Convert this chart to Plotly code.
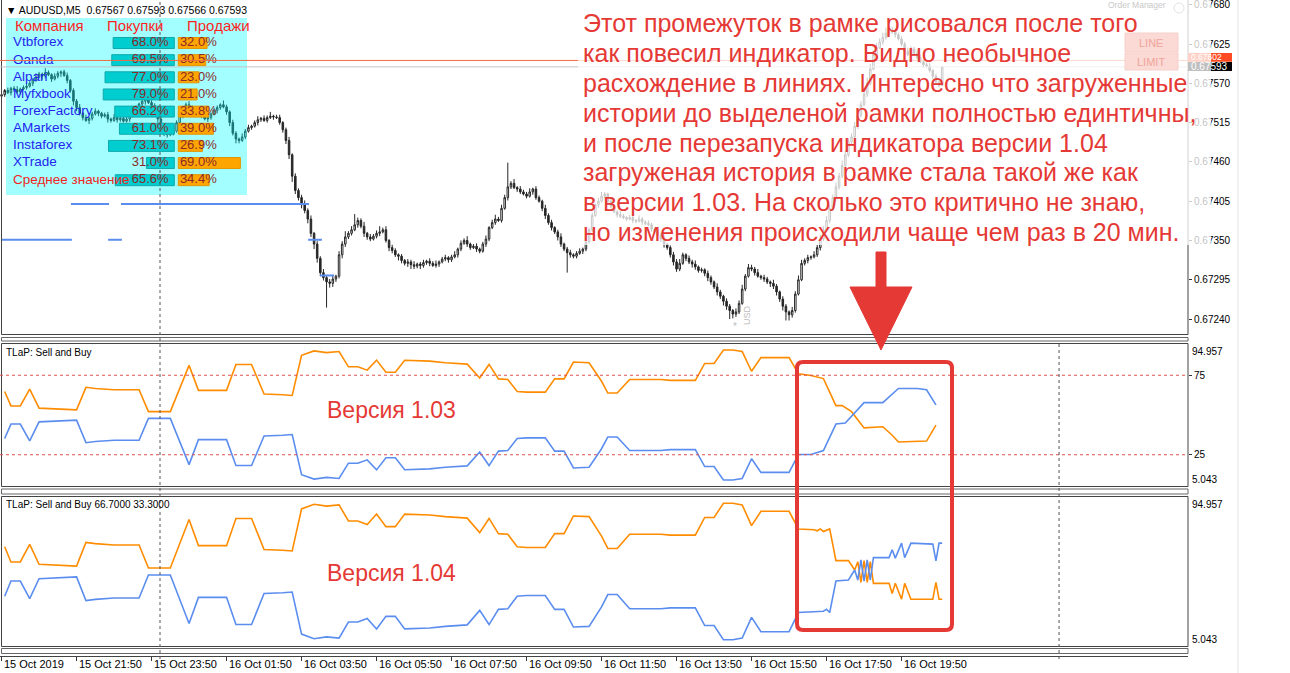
import plotly.graph_objects as go

W, H = 1290, 673
PLOT_R = 1188          # right border of the chart panels (px)
BAR_PX = 3.125         # width of one M5 bar on screen (px)
FONT = "Liberation Sans"
RED = "#e53935"


def px(x):
    return x / W


def py(y):
    return 1 - y / H


# ---------------------------------------------------------------- data
symbol_header = "▼ AUDUSD,M5  0.67567 0.67593 0.67566 0.67593"
time_labels = ["15 Oct 2019", "15 Oct 21:50", "15 Oct 23:50", "16 Oct 01:50",
               "16 Oct 03:50", "16 Oct 05:50", "16 Oct 07:50", "16 Oct 09:50",
               "16 Oct 11:50", "16 Oct 13:50", "16 Oct 15:50", "16 Oct 17:50",
               "16 Oct 19:50"]
time_label_bars = [0, 24, 48, 72, 96, 120, 144, 168, 192, 216, 240, 264, 288]

price_ticks = [0.67680, 0.67625, 0.67570, 0.67515, 0.67460, 0.67405,
               0.67350, 0.67295, 0.67240]
price_range = [0.672191, 0.676866]
bid_price = 0.67593
ask_price = 0.67602

# candles, in points above 0.67000 (1 point = 0.00001)
opens_pts = [
    552, 554, 560, 557, 563, 561, 558, 562, 564, 566, 570, 575, 579, 583, 580, 585,
    582, 576, 580, 584, 586, 581, 574, 560, 545, 536, 528, 522, 518, 521, 527, 531,
    528, 524, 526, 520, 518, 522, 519, 521, 517, 520, 525, 530, 536, 541, 545, 548,
    543, 539, 530, 520, 510, 502, 498, 500, 503, 515, 525, 532, 540, 537, 530, 526,
    528, 524, 520, 522, 527, 532, 536, 540, 537, 530, 515, 500, 492, 490, 495, 503,
    508, 510, 515, 519, 521, 518, 522, 524, 523, 522, 515, 505, 490, 470, 440, 420,
    410, 400, 392, 380, 360, 345, 325, 305, 298, 292, 290, 296, 300, 330, 345, 355,
    360, 365, 372, 378, 370, 360, 355, 352, 356, 360, 362, 365, 350, 340, 336, 330,
    328, 322, 318, 320, 316, 314, 317, 315, 319, 321, 318, 315, 317, 320, 324, 326,
    323, 327, 330, 338, 346, 350, 345, 340, 342, 338, 335, 345, 352, 368, 375, 380,
    378, 395, 410, 425, 430, 424, 422, 418, 415, 412, 418, 422, 410, 405, 395, 385,
    375, 368, 362, 355, 345, 338, 333, 330, 328, 332, 335, 338, 348, 365, 385, 400,
    405, 412, 415, 405, 398, 390, 386, 384, 382, 380, 382, 378, 377, 380, 376, 374,
    372, 366, 362, 358, 352, 345, 340, 330, 320, 310, 318, 330, 325, 320, 317, 313,
    308, 309, 304, 298, 292, 285, 278, 272, 265, 258, 252, 247, 250, 262, 282, 300,
    312, 310, 305, 300, 298, 296, 292, 290, 286, 278, 268, 258, 250, 246, 252, 275,
    295, 318, 322, 326, 327, 330, 340, 352, 365, 378, 395, 410, 425, 440, 455, 470,
    488, 495, 510, 525, 540, 555, 570, 590, 610, 620, 628, 634, 640, 645, 642, 638,
    632, 625, 615, 610, 618, 612, 606, 600, 596, 594, 588, 580, 572, 567]
closes_pts = [
    554, 560, 557, 563, 561, 558, 562, 564, 566, 570, 575, 579, 583, 580, 585, 582,
    576, 580, 584, 586, 581, 574, 560, 545, 536, 528, 522, 518, 521, 527, 531, 528,
    524, 526, 520, 518, 522, 519, 521, 517, 520, 525, 530, 536, 541, 545, 548, 543,
    539, 530, 520, 510, 502, 498, 500, 503, 515, 525, 532, 540, 537, 530, 526, 528,
    524, 520, 522, 527, 532, 536, 540, 537, 530, 515, 500, 492, 490, 495, 503, 508,
    510, 515, 519, 521, 518, 522, 524, 523, 522, 515, 505, 490, 470, 440, 420, 410,
    400, 392, 380, 360, 345, 325, 305, 298, 292, 290, 296, 300, 330, 345, 355, 360,
    365, 372, 378, 370, 360, 355, 352, 356, 360, 362, 365, 350, 340, 336, 330, 328,
    322, 318, 320, 316, 314, 317, 315, 319, 321, 318, 315, 317, 320, 324, 326, 323,
    327, 330, 338, 346, 350, 345, 340, 342, 338, 335, 345, 352, 368, 375, 380, 378,
    395, 410, 425, 430, 424, 422, 418, 415, 412, 418, 422, 410, 405, 395, 385, 375,
    368, 362, 355, 345, 338, 333, 330, 328, 332, 335, 338, 348, 365, 385, 400, 405,
    412, 415, 405, 398, 390, 386, 384, 382, 380, 382, 378, 377, 380, 376, 374, 372,
    366, 362, 358, 352, 345, 340, 330, 320, 310, 318, 330, 325, 320, 317, 313, 308,
    309, 304, 298, 292, 285, 278, 272, 265, 258, 252, 247, 250, 262, 282, 300, 312,
    310, 305, 300, 298, 296, 292, 290, 286, 278, 268, 258, 250, 246, 252, 275, 295,
    318, 322, 326, 327, 330, 340, 352, 365, 378, 395, 410, 425, 440, 455, 470, 488,
    495, 510, 525, 540, 555, 570, 590, 610, 620, 628, 634, 640, 645, 642, 638, 632,
    625, 615, 610, 618, 612, 606, 600, 596, 594, 588, 580, 572, 567, 593]
wick_up_pts = [
    3, 2, 4, 2, 3, 5, 2, 3, 4, 3, 2, 5, 3, 2, 6, 3, 2, 4, 3, 2, 3, 4, 2, 3,
    3, 5, 2, 4, 2, 3, 4, 2, 2, 3, 4, 2, 5, 3, 2, 4, 3, 2, 4, 3, 2, 5, 3, 2,
    4, 3, 2, 5, 3, 2, 4, 6, 3, 4, 2, 3, 5, 2, 3, 4, 2, 5, 3, 2, 4, 3, 2, 6,
    3, 2, 4, 3, 2, 5, 3, 4, 2, 3, 5, 2, 4, 3, 6, 2, 3, 4, 2, 3, 5, 2, 4, 3,
    4, 6, 3, 5, 2, 4, 3, 5, 3, 4, 6, 2, 5, 4, 8, 3, 5, 15, 4, 3, 6, 2, 4, 3,
    4, 8, 3, 5, 2, 4, 3, 2, 3, 2, 4, 3, 5, 2, 3, 4, 2, 4, 3, 5, 2, 3, 4, 2,
    3, 5, 2, 4, 3, 6, 2, 3, 4, 2, 3, 5, 2, 4, 6, 3, 5, 4, 34, 3, 6, 2, 4, 3,
    3, 5, 2, 4, 3, 2, 5, 3, 4, 2, 3, 5, 2, 3, 4, 2, 3, 4, 2, 5, 3, 4, 2, 5,
    6, 3, 2, 4, 3, 2, 5, 3, 2, 4, 3, 2, 5, 3, 2, 4, 3, 2, 4, 3, 5, 2, 3, 4,
    4, 6, 3, 2, 4, 3, 5, 2, 3, 2, 4, 3, 2, 5, 3, 2, 4, 3, 2, 5, 4, 6, 3, 5,
    4, 3, 5, 2, 4, 3, 2, 5, 3, 2, 4, 3, 2, 5, 4, 6, 5, 3, 4, 2, 5, 4, 6, 5,
    6, 5, 4, 6, 5, 7, 6, 5, 5, 6, 7, 5, 6, 8, 7, 6, 6, 5, 7, 8, 6, 4, 5, 3,
    4, 3, 5, 4, 3, 5, 4, 3, 3, 4, 2, 3, 2, 0]
wick_dn_pts = [
    2, 3, 2, 4, 3, 2, 4, 2, 3, 2, 4, 3, 2, 5, 3, 2, 4, 2, 3, 5, 2, 4, 3, 6,
    5, 3, 4, 2, 5, 3, 2, 4, 3, 2, 5, 3, 2, 4, 3, 2, 2, 4, 3, 2, 4, 3, 5, 2,
    3, 4, 5, 3, 6, 4, 2, 3, 2, 3, 4, 2, 3, 5, 2, 3, 3, 2, 4, 3, 2, 4, 3, 2,
    4, 5, 3, 6, 4, 2, 3, 2, 3, 2, 4, 3, 2, 3, 2, 4, 2, 3, 4, 5, 6, 8, 5, 4,
    5, 4, 6, 5, 7, 6, 5, 4, 36, 6, 5, 4, 3, 5, 4, 3, 3, 2, 4, 3, 5, 4, 3, 2,
    3, 4, 2, 3, 5, 4, 3, 6, 4, 3, 5, 6, 4, 3, 5, 3, 3, 4, 2, 3, 4, 2, 3, 4,
    3, 2, 4, 3, 2, 4, 3, 2, 4, 3, 2, 4, 3, 2, 3, 2, 3, 2, 4, 3, 2, 4, 3, 2,
    3, 2, 4, 3, 2, 4, 5, 3, 4, 3, 5, 4, 3, 28, 4, 3, 3, 2, 4, 3, 2, 3, 2, 4,
    2, 3, 4, 3, 2, 4, 3, 2, 3, 2, 4, 3, 2, 4, 3, 2, 4, 3, 2, 4, 5, 3, 4, 5,
    4, 3, 2, 4, 3, 5, 4, 3, 3, 4, 5, 4, 3, 5, 4, 6, 5, 12, 6, 4, 3, 2, 3, 2,
    3, 4, 2, 3, 4, 3, 5, 4, 5, 4, 6, 12, 8, 4, 3, 2, 2, 3, 4, 3, 2, 3, 4, 3,
    3, 4, 3, 2, 4, 3, 2, 3, 3, 2, 4, 3, 2, 4, 3, 2, 3, 2, 4, 3, 2, 3, 4, 2,
    3, 4, 2, 3, 4, 3, 2, 4, 2, 3, 4, 2, 3, 1]

# blue step levels drawn on the price chart (bar from, bar to, level in points)
level_from = [0.0, 22.2, 34.1, 38.2, 98.1, 101.9]
level_to = [22.5, 34.4, 38.5, 98.4, 102.5, 106.4]
level_pts = [351, 401, 351, 401, 351, 301]

# "TLaP: Sell and Buy" indicator: shared history (same in both versions)
hist_bars = [1, 3, 6, 9, 12, 18, 21, 24, 27, 30, 36, 44, 47, 54, 60, 63, 72, 75,
             80, 84, 90, 93, 96, 100, 104, 108, 111, 114, 117, 120, 123, 126,
             129, 137, 142, 149, 153, 156, 159, 162, 165, 168, 174, 177, 180,
             183, 188, 192, 194, 197, 201, 211, 214, 222, 225, 228, 231, 234,
             237, 240, 243, 252]
hist_sell = [64.8, 55.7, 55.7, 66.3, 54.3, 53.8, 53.2, 53.2, 67.4, 66.7, 65.9,
             65.9, 52.1, 52.1, 81.2, 65.5, 65.5, 81.8, 81.8, 63.2, 62.7, 62.3,
             87.5, 90.3, 89.2, 89.9, 80.3, 80.3, 78.2, 84.5, 76.9, 76.9, 84.4,
             83.9, 82.9, 82.0, 73.3, 81.8, 72.7, 72.3, 64.8, 64.4, 64.4, 72.7,
             72.7, 83.3, 82.9, 71.2, 63.8, 63.8, 72.3, 72.3, 71.8, 71.8, 82.4,
             82.4, 90.9, 90.9, 89.9, 77.5, 86.1, 86.1]
hist_buy = [35.2, 44.3, 44.3, 33.7, 45.7, 46.2, 46.8, 46.8, 32.6, 33.3, 34.1,
            34.1, 47.9, 47.9, 18.8, 34.5, 34.5, 18.2, 18.2, 36.8, 37.3, 37.7,
            12.5, 9.7, 10.8, 10.1, 19.7, 19.7, 21.8, 15.5, 23.1, 23.1, 15.6,
            16.1, 17.1, 18.0, 26.7, 18.2, 27.3, 27.7, 35.2, 35.6, 35.6, 27.3,
            27.3, 16.7, 17.1, 28.8, 36.2, 36.2, 27.7, 27.7, 28.2, 28.2, 17.6,
            17.6, 9.1, 9.1, 10.1, 22.5, 13.9, 13.9]

# version 1.03: bars drawn live inside the frame
v103_sell_bars = [255, 259, 263, 267, 269, 272, 276, 282, 285, 287, 296, 299]
v103_sell = [75.9, 74.8, 72.9, 55.9, 55.9, 52.1, 41.9, 42.6, 37.3, 33.0, 33.6, 43.6]
v103_buy_bars = [255, 259, 263, 267, 270, 276, 282, 287, 293, 296, 299]
v103_buy = [25.2, 25.2, 27.7, 44.3, 44.9, 57.8, 57.8, 66.7, 66.7, 65.9, 56.4]

# version 1.04: bars drawn live inside the frame
v104_sell_bars = [255, 260, 261, 262, 263, 264, 265, 267, 271, 273, 274, 275, 276,
                  277, 278, 279, 284, 285, 286, 288, 289, 291, 298, 299, 300, 301]
v104_sell = [75.5, 75.0, 74.4, 75.5, 74.0, 75.0, 75.5, 56.5, 56.5, 50.9, 55.9,
             43.5, 56.5, 43.5, 55.9, 42.9, 42.9, 36.8, 42.9, 33.4, 42.9, 33.4,
             33.4, 43.5, 33.4, 33.4]
v104_buy_bars = [255, 260, 263, 264, 265, 267, 271, 273, 274, 275, 276, 277, 278,
                 279, 284, 285, 286, 288, 289, 291, 298, 299, 300, 301]
v104_buy = [25.4, 25.7, 26.2, 27.4, 25.4, 44.3, 44.9, 50.9, 44.9, 56.9, 44.3,
            56.9, 44.9, 58.3, 58.3, 63.0, 58.0, 67.0, 58.3, 67.0, 66.4, 56.4,
            67.0, 67.0]
ind_range = [5.043, 94.957]
ind_levels = [75, 25]

# sentiment table
companies = ["Vtbforex", "Oanda", "Alpari", "Myfxbook", "ForexFactory",
             "AMarkets", "Instaforex", "XTrade", "Среднее значение"]
buy_pct = [68.0, 69.5, 77.0, 79.0, 66.2, 61.0, 73.1, 31.0, 65.6]
sell_pct = [32.0, 30.5, 23.0, 21.0, 33.8, 39.0, 26.9, 69.0, 34.4]
table_headers = ["Компания", "Покупки", "Продажи"]

note_lines = [
    "Этот промежуток в рамке рисовался после того",
    "как повесил индикатор. Видно необычное",
    "расхождение в линиях. Интересно что загруженные",
    "истории до выделеной рамки полностью единтичны,",
    "и после перезапуска индикатора версии 1.04",
    "загруженая история в рамке стала такой же как",
    "в версии 1.03. На сколько это критично не знаю,",
    "но изменения происходили чаще чем раз в 20 мин.",
]

# ---------------------------------------------------------------- figure
fig = go.Figure()
XR = [-0.5, -0.5 + PLOT_R / BAR_PX]


def to_price(v):
    return 0.67 + v / 1e5


bars = list(range(len(closes_pts)))
highs = [to_price(max(o, c) + u) for o, c, u in zip(opens_pts, closes_pts, wick_up_pts)]
lows = [to_price(min(o, c) - d) for o, c, d in zip(opens_pts, closes_pts, wick_dn_pts)]

fig.add_trace(go.Candlestick(
    x=bars, open=[to_price(v) for v in opens_pts], high=highs, low=lows,
    close=[to_price(v) for v in closes_pts], xaxis="x", yaxis="y",
    increasing=dict(line=dict(color="#262626", width=1), fillcolor="#ffffff"),
    decreasing=dict(line=dict(color="#262626", width=1), fillcolor="#262626"),
    whiskerwidth=0, showlegend=False, hoverinfo="skip"))

lx, ly = [], []
for a, b, lv in zip(level_from, level_to, level_pts):
    lx += [a, b, None]
    ly += [to_price(lv), to_price(lv), None]
fig.add_trace(go.Scatter(x=lx, y=ly, mode="lines", xaxis="x", yaxis="y",
                         line=dict(color="#5b8def", width=2), hoverinfo="skip"))

ORANGE = "#ff8c00"
BLUE = "#5b8def"
for ax, ay, s_bars, s_vals, b_bars, b_vals in [
        ("x2", "y2", v103_sell_bars, v103_sell, v103_buy_bars, v103_buy),
        ("x3", "y3", v104_sell_bars, v104_sell, v104_buy_bars, v104_buy)]:
    fig.add_trace(go.Scatter(x=hist_bars + s_bars, y=hist_sell + s_vals, mode="lines",
                             xaxis=ax, yaxis=ay, line=dict(color=ORANGE, width=1.6),
                             hoverinfo="skip"))
    fig.add_trace(go.Scatter(x=hist_bars + b_bars, y=hist_buy + b_vals, mode="lines",
                             xaxis=ax, yaxis=ay, line=dict(color=BLUE, width=1.6),
                             hoverinfo="skip"))

# table (own axes: 1 unit = 0.9 px horizontally, centre line at px 176.3)
T_CX, T_K = 176.3, 0.9
T_ROW0, T_ROWH = 43.0, 17.15
TX = [(6 - T_CX) / T_K, (247 - T_CX) / T_K]
TY = [(195 - T_ROW0) / T_ROWH, (18 - T_ROW0) / T_ROWH]
rows = list(range(len(companies)))

# translucent cyan panel of the table, drawn as a bar filling the table axes
fig.add_trace(go.Bar(y=[(TY[0] + TY[1]) / 2], x=[TX[1] - TX[0]], base=TX[0],
                     orientation="h", width=abs(TY[0] - TY[1]), xaxis="x4", yaxis="y4",
                     marker=dict(color="rgba(0,255,255,0.36)", line=dict(width=0)),
                     hoverinfo="skip"))
fig.add_trace(go.Bar(y=rows, x=[-v for v in buy_pct], base=-2.2, orientation="h",
                     width=0.64, xaxis="x4", yaxis="y4", hoverinfo="skip",
                     marker=dict(color="#00cdd0", line=dict(color="#10a9ac", width=1))))
fig.add_trace(go.Bar(y=rows, x=sell_pct, base=2.2, orientation="h",
                     width=0.64, xaxis="x4", yaxis="y4", hoverinfo="skip",
                     marker=dict(color="#ffa500", line=dict(color="#e59400", width=1))))
fig.add_trace(go.Scatter(y=rows, x=[-8.5] * len(rows), mode="text",
                         text=[f"{v:.1f}%" for v in buy_pct], textposition="middle left",
                         textfont=dict(family=FONT, size=13, color="#8b2a2a"),
                         xaxis="x4", yaxis="y4", hoverinfo="skip"))
fig.add_trace(go.Scatter(y=rows, x=[4.0] * len(rows), mode="text",
                         text=[f"{v:.1f}%" for v in sell_pct], textposition="middle right",
                         textfont=dict(family=FONT, size=13, color="#8b2a2a"),
                         xaxis="x4", yaxis="y4", hoverinfo="skip"))
fig.add_trace(go.Scatter(y=rows, x=[(13 - T_CX) / T_K] * len(rows), mode="text",
                         text=companies, textposition="middle right",
                         textfont=dict(family=FONT, size=13.5,
                                       color=["#2424ee"] * (len(rows) - 1) + ["#f02424"]),
                         xaxis="x4", yaxis="y4", hoverinfo="skip"))

# ---------------------------------------------------------------- layout
xdom = [0, px(PLOT_R)]
tick_font = dict(family=FONT, size=10, color="#000")
price_labels = [f"{v:.5f}" for v in price_ticks]

fig.update_layout(
    width=W, height=H, margin=dict(l=0, r=0, t=0, b=0),
    paper_bgcolor="white", plot_bgcolor="rgba(0,0,0,0)", barmode="overlay",
    showlegend=False, hovermode=False, font=dict(family=FONT, size=10),
    xaxis=dict(domain=xdom, range=XR, visible=False, anchor="y",
               rangeslider=dict(visible=False)),
    yaxis=dict(domain=[py(334), 1], range=price_range, side="right", anchor="x",
               tickvals=price_ticks, ticktext=price_labels, ticks="outside",
               ticklen=3, tickcolor="#333", showgrid=False, zeroline=False,
               showline=False, tickfont=tick_font, automargin=False,
               ticklabeloverflow="allow"),
    xaxis2=dict(domain=xdom, range=XR, visible=False, anchor="y2"),
    yaxis2=dict(domain=[py(486.5), py(343.5)], range=ind_range, side="right",
                anchor="x2", tickvals=ind_levels, ticktext=[str(v) for v in ind_levels],
                ticks="outside", ticklen=3, tickcolor="#333", showgrid=False,
                zeroline=False, tickfont=tick_font, automargin=False),
    xaxis3=dict(domain=xdom, range=XR, anchor="free", position=py(655.5),
                tickvals=time_label_bars, ticks="outside", ticklen=4,
                tickcolor="#333", showticklabels=False, showline=True,
                linecolor="#444", linewidth=1, showgrid=False, zeroline=False),
    yaxis3=dict(domain=[py(646.5), py(496.5)], range=ind_range, side="right",
                anchor="x3", tickvals=[], showgrid=False, zeroline=False),
    xaxis4=dict(domain=[px(6), px(247)], range=TX, visible=False, anchor="y4"),
    yaxis4=dict(domain=[py(195), py(18)], range=TY, visible=False, anchor="x4"),
)

shapes = []
ann = []


def rect(x0, y0, x1, y1, line="#444", fill=None, width=1):
    shapes.append(dict(type="rect", xref="paper", yref="paper", layer="above",
                       x0=px(x0), x1=px(x1), y0=py(y1), y1=py(y0),
                       line=dict(color=line, width=width),
                       fillcolor=fill if fill else "rgba(0,0,0,0)"))


# panel frames and splitters
rect(1.5, -2, PLOT_R, 334.5)
rect(1.5, 337.5, PLOT_R, 341.0, line="#666")
rect(1.5, 343.5, PLOT_R, 486.5)
rect(1.5, 489, PLOT_R, 494, line="#666")
rect(1.5, 496.5, PLOT_R, 646.5)
rect(1.5, 648.5, PLOT_R, 653.5, line="#666")
shapes.append(dict(type="line", xref="paper", yref="paper", layer="above",
                   x0=px(1238), x1=px(1238), y0=0, y1=1,
                   line=dict(color="#e2e2e2", width=1)))

# level lines in the first indicator window
for lv in ind_levels:
    shapes.append(dict(type="line", xref="x2 domain", yref="y2", layer="above",
                       x0=0, x1=1, y0=lv, y1=lv,
                       line=dict(color="#dd5050", width=1, dash="dot")))

# ask / bid lines
shapes.append(dict(type="line", xref="x domain", yref="y", layer="above", x0=0, x1=1,
                   y0=ask_price, y1=ask_price, line=dict(color="#f26a45", width=1)))
shapes.append(dict(type="line", xref="x domain", yref="y", layer="above", x0=0, x1=1,
                   y0=bid_price, y1=bid_price, line=dict(color="#c4c4c4", width=1)))

# vertical dotted lines
shapes.append(dict(type="line", xref="x", yref="paper", layer="above",
                   x0=50.7, x1=50.7, y0=py(659), y1=1,
                   line=dict(color="#555", width=1, dash="dot")))
shapes.append(dict(type="line", xref="x", yref="paper", layer="above",
                   x0=338.4, x1=338.4, y0=py(659), y1=py(343),
                   line=dict(color="#555", width=1, dash="dot")))

# price labels on the axis (ask label sits above, bid label in front)
PT = 1e-5
for price, col, lo, hi in [(ask_price, "#ff4a22", 2.0, 10.5),
                           (bid_price, "#000000", 5.9, 6.7)]:
    shapes.append(dict(type="rect", xref="paper", yref="y", layer="above",
                       x0=px(PLOT_R), x1=px(1232), y0=price - lo * PT,
                       y1=price + hi * PT, line=dict(width=0), fillcolor=col))

# LINE / LIMIT buttons and order manager
rect(1125, 33, 1178, 52, line="#d9442f", fill="#ee6a5a")
rect(1125, 53, 1178, 70, line="#d9442f", fill="#ee6a5a")
shapes.append(dict(type="circle", xref="paper", yref="paper", layer="above",
                   x0=px(1174), x1=px(1184), y0=py(13), y1=py(3),
                   line=dict(color="#888", width=1)))

# translucent white background of the note text
rect(578, -2, 1211, 245, line="rgba(0,0,0,0)", fill="rgba(255,255,255,0.75)", width=0)

# red arrow
arrow = [(876, 252), (886, 252), (886, 287), (912, 287), (881, 350), (850, 287), (876, 287)]
shapes.append(dict(type="path", xref="paper", yref="paper", layer="above",
                   path="M " + " L ".join(f"{px(x):.5f},{py(y):.5f}" for x, y in arrow) + " Z",
                   fillcolor=RED, line=dict(color=RED, width=1)))

# red rounded frame
x0, y0, x1, y1, r = 797, 362, 952, 630, 6
pts = (f"M {px(x0 + r)},{py(y0)} L {px(x1 - r)},{py(y0)} Q {px(x1)},{py(y0)} {px(x1)},{py(y0 + r)} "
       f"L {px(x1)},{py(y1 - r)} Q {px(x1)},{py(y1)} {px(x1 - r)},{py(y1)} "
       f"L {px(x0 + r)},{py(y1)} Q {px(x0)},{py(y1)} {px(x0)},{py(y1 - r)} "
       f"L {px(x0)},{py(y0 + r)} Q {px(x0)},{py(y0)} {px(x0 + r)},{py(y0)} Z")
shapes.append(dict(type="path", xref="paper", yref="paper", layer="above", path=pts,
                   line=dict(color=RED, width=4)))


def text(x, y, s, size=10, color="#000", anchor="left", yanchor="middle", **kw):
    ann.append(dict(x=px(x), y=py(y), xref="paper", yref="paper", text=s,
                    showarrow=False, xanchor=anchor, yanchor=yanchor,
                    font=dict(family=FONT, size=size, color=color), **kw))


text(4, 10, symbol_header, size=10.5)
for hx, h in zip([13, 105, 185], table_headers):
    text(hx, 26, h, size=15, color="#ff1f1f")
text(1106, 5, "Order Manager", size=8.5, color="#c8c8c8")
text(1151, 42.5, "LINE", size=11, color="#f0a49b", anchor="center")
text(1151, 61.5, "LIMIT", size=11, color="#f0a49b", anchor="center")
text(4, 352, "TLaP: Sell and Buy", size=10)
text(4, 504, "TLaP: Sell and Buy 66.7000 33.3000", size=10)

for price, label, size, shift in [(ask_price, "0.67602", 8.5, 4.5),
                                  (bid_price, "0.67593", 10, 0.4)]:
    ann.append(dict(x=px(PLOT_R + 1), y=price + shift * PT, xref="paper", yref="y",
                    text=label, showarrow=False, xanchor="left", yanchor="middle",
                    font=dict(family=FONT, size=size, color="#ffffff")))

for yref in ["y2", "y3"]:
    ann.append(dict(x=px(PLOT_R + 2), y=ind_range[1], xref="paper", yref=yref,
                    text=f"{ind_range[1]:.3f}", showarrow=False, xanchor="left",
                    yanchor="top", font=tick_font))
    ann.append(dict(x=px(PLOT_R + 2), y=ind_range[0], xref="paper", yref=yref,
                    text=f"{ind_range[0]:.3f}", showarrow=False, xanchor="left",
                    yanchor="bottom", font=tick_font))

for b, lab in zip(time_label_bars, time_labels):
    ann.append(dict(x=b, y=py(664), xref="x3", yref="paper", text=lab, showarrow=False,
                    xanchor="left", yanchor="middle", xshift=0,
                    font=dict(family=FONT, size=11, color="#000")))

for i, line in enumerate(note_lines):
    text(581, 23 + 29.9 * i, line, size=25, color=RED)

text(325, 410, "Версия 1.03", size=23, color=RED)
text(325, 573, "Версия 1.04", size=23, color=RED)
text(747, 315, "USD", size=9, color="#bdbdbd", anchor="center", textangle=-90)
text(735, 326, "*", size=10, color="#bdbdbd", anchor="center")

fig.update_layout(shapes=shapes, annotations=ann)
fig.write_html("out.html")
